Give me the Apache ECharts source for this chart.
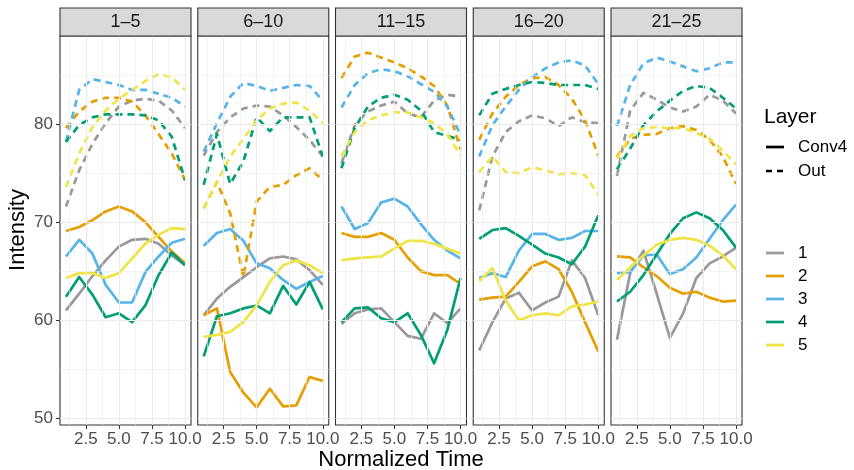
<!DOCTYPE html>
<html>
<head>
<meta charset="utf-8">
<script src="https://cdn.jsdelivr.net/npm/echarts@6/dist/echarts.min.js"></script>
<style>
  html, body { margin: 0; padding: 0; background: #fff; }
  #chart { width: 854px; height: 470px; }
</style>
</head>
<body>
<div id="chart"></div>
<script>
// Normalized time steps shared by every panel
const timeSteps = [1, 2, 3, 4, 5, 6, 7, 8, 9, 10];
const facetNames = ['1–5', '6–10', '11–15', '16–20', '21–25'];
const groupNames = ['1', '2', '3', '4', '5'];
const groupColors = ['#999999', '#E69F00', '#56B4E9', '#009E73', '#F0E442'];
const layerNames = ['Conv4', 'Out'];
const xTickValues = [2.5, 5, 7.5, 10];
const xMinorValues = [1.25, 3.75, 6.25, 8.75];
const yTickValues = [50, 60, 70, 80];
const yMinorValues = [55, 65, 75, 85];

// Conv4 layer, one row per group (1..5), per panel
const conv4Panel1 = [
  [61.0, 62.7, 64.5, 66.1, 67.5, 68.2, 68.3, 67.8, 66.6, 65.6],
  [69.1, 69.5, 70.2, 71.1, 71.6, 71.1, 70.0, 68.5, 67.0, 65.8],
  [66.5, 68.2, 66.8, 63.6, 61.8, 61.8, 64.9, 66.5, 67.9, 68.3],
  [62.4, 64.4, 62.6, 60.3, 60.7, 59.8, 61.5, 64.6, 66.9, 65.6],
  [64.3, 64.8, 64.8, 64.3, 64.8, 66.3, 67.8, 68.7, 69.4, 69.3]
];
const conv4Panel2 = [
  [60.5, 62.2, 63.4, 64.4, 65.4, 66.3, 66.5, 66.2, 65.1, 63.6],
  [60.5, 61.2, 54.7, 52.6, 51.1, 53.0, 51.2, 51.3, 54.2, 53.8],
  [67.6, 68.9, 69.3, 68.1, 65.8, 65.3, 64.1, 63.2, 63.9, 64.5],
  [56.3, 60.4, 60.7, 61.2, 61.5, 60.7, 63.5, 61.6, 63.9, 61.1],
  [58.3, 58.5, 58.8, 59.8, 61.5, 63.9, 65.6, 66.1, 65.6, 64.8]
];
const conv4Panel3 = [
  [59.6, 60.7, 61.1, 61.2, 59.8, 58.4, 58.1, 60.7, 59.7, 61.2],
  [68.9, 68.5, 68.5, 68.9, 68.2, 66.4, 65.0, 64.6, 64.6, 63.7],
  [71.6, 69.3, 69.9, 72.0, 72.4, 71.6, 69.8, 68.2, 67.1, 66.3],
  [59.8, 61.2, 61.3, 60.2, 59.8, 60.7, 58.5, 55.6, 59.0, 64.3],
  [66.1, 66.3, 66.4, 66.5, 67.3, 68.1, 68.1, 67.8, 67.3, 66.8]
];
const conv4Panel4 = [
  [56.9, 59.8, 62.2, 62.8, 61.0, 61.8, 62.4, 66.1, 64.3, 60.5],
  [62.1, 62.3, 62.4, 63.9, 65.5, 66.0, 65.2, 62.9, 59.8, 56.8],
  [64.3, 64.8, 64.4, 67.1, 68.8, 68.8, 68.2, 68.4, 69.1, 69.1],
  [68.3, 69.2, 69.4, 68.6, 67.7, 66.8, 66.4, 65.7, 67.5, 70.7],
  [64.0, 65.3, 62.0, 60.0, 60.5, 60.7, 60.5, 61.4, 61.6, 61.9]
];
const conv4Panel5 = [
  [58.0, 64.8, 67.1, 62.7, 58.2, 60.7, 64.3, 65.8, 66.5, 67.4],
  [66.5, 66.4, 65.4, 64.5, 63.3, 62.7, 62.9, 62.3, 61.9, 62.0],
  [64.8, 64.9, 66.6, 66.7, 64.7, 65.2, 66.4, 68.3, 70.2, 71.8],
  [61.9, 62.9, 64.6, 66.7, 68.8, 70.4, 71.0, 70.4, 69.2, 67.4],
  [64.1, 65.4, 66.6, 67.7, 68.2, 68.4, 68.2, 67.6, 66.6, 65.2]
];

// Out layer, one row per group (1..5), per panel
const outPanel1 = [
  [71.6, 75.3, 78.0, 80.1, 81.8, 82.4, 82.6, 82.4, 81.4, 79.6],
  [79.6, 81.3, 82.3, 82.7, 82.7, 82.3, 80.9, 79.0, 77.0, 74.3],
  [78.2, 83.5, 84.6, 84.3, 84.0, 83.5, 83.5, 83.1, 82.7, 81.8],
  [78.2, 79.9, 80.7, 81.0, 81.0, 81.0, 80.9, 80.4, 78.7, 74.3],
  [73.6, 77.0, 79.7, 81.4, 82.6, 83.5, 84.4, 85.1, 84.8, 83.5]
];
const outPanel2 = [
  [76.8, 79.2, 80.7, 81.6, 81.9, 81.8, 80.9, 79.7, 78.4, 76.7],
  [71.4, 74.1, 70.9, 64.4, 72.1, 73.6, 73.8, 74.8, 75.5, 74.3],
  [77.2, 80.1, 82.8, 84.2, 83.9, 83.4, 83.7, 84.0, 83.9, 82.4],
  [73.8, 79.0, 73.9, 76.2, 80.7, 79.3, 80.7, 80.7, 80.7, 76.7],
  [71.4, 74.1, 76.7, 78.5, 80.4, 81.6, 82.1, 82.2, 81.4, 80.1]
];
const outPanel3 = [
  [76.0, 79.9, 81.3, 81.9, 82.3, 81.1, 80.7, 82.4, 83.0, 82.8],
  [84.7, 86.9, 87.3, 86.8, 86.3, 85.7, 84.9, 83.9, 81.9, 77.4],
  [81.7, 84.0, 85.2, 85.6, 85.4, 84.9, 84.1, 83.3, 81.8, 78.9],
  [75.5, 79.6, 81.8, 82.7, 83.0, 82.5, 81.4, 79.2, 78.8, 78.4],
  [76.7, 79.2, 80.4, 80.9, 81.2, 81.2, 80.7, 80.1, 79.0, 76.8]
];
const outPanel4 = [
  [71.2, 76.7, 79.2, 80.3, 80.9, 80.6, 79.8, 80.7, 80.2, 80.1],
  [78.4, 81.1, 82.8, 84.0, 84.7, 84.8, 84.0, 82.6, 80.4, 76.8],
  [76.7, 79.9, 81.8, 83.5, 84.8, 85.7, 86.3, 86.5, 86.0, 84.1],
  [80.9, 83.1, 83.6, 84.0, 84.3, 84.2, 84.0, 84.0, 84.0, 83.6],
  [75.1, 76.7, 75.1, 75.0, 75.6, 75.3, 74.9, 75.0, 74.8, 72.8]
];
const outPanel5 = [
  [74.7, 81.4, 83.2, 82.5, 81.7, 81.3, 81.8, 83.0, 82.4, 81.1],
  [76.7, 78.5, 78.9, 79.0, 79.6, 79.8, 79.4, 78.4, 76.7, 73.9],
  [79.8, 84.0, 86.2, 86.8, 86.4, 85.9, 85.4, 85.7, 86.3, 86.3],
  [75.4, 77.5, 79.9, 81.3, 82.4, 83.4, 83.9, 83.7, 82.7, 81.6],
  [76.5, 78.8, 79.6, 79.7, 79.6, 79.6, 79.1, 78.5, 77.3, 75.9]
];

const conv4Data = [conv4Panel1, conv4Panel2, conv4Panel3, conv4Panel4, conv4Panel5];
const outData = [outPanel1, outPanel2, outPanel3, outPanel4, outPanel5];

// Panel geometry
const panelLeft = 60, panelStep = 137.75, panelWidth = 131;
const panelTop = 36, panelHeight = 389;
const stripTop = 8, stripHeight = 28;
const xRange = [0.55, 10.45];
const yRange = [49.3, 89.0];
const dashPattern = [7, 5];
const lineW = 2.7;

const grids = [], xAxes = [], yAxes = [], series = [], graphics = [];

facetNames.forEach((name, f) => {
  const left = panelLeft + f * panelStep;
  grids.push({
    left: left, top: panelTop, width: panelWidth, height: panelHeight,
    show: true, borderColor: '#333333', borderWidth: 1.1, backgroundColor: '#ffffff',
    containLabel: false
  });
  xAxes.push({
    type: 'value', gridIndex: f, min: xRange[0], max: xRange[1],
    axisLine: { show: false },
    splitLine: { show: false },
    axisTick: { show: true, length: 4, customValues: xTickValues, lineStyle: { color: '#333333', width: 1.1 } },
    axisLabel: {
      show: true, customValues: xTickValues, margin: 6,
      color: '#4D4D4D', fontSize: 17, fontFamily: 'Liberation Sans, Arial, sans-serif',
      formatter: v => v.toFixed(1)
    }
  });
  yAxes.push({
    type: 'value', gridIndex: f, min: yRange[0], max: yRange[1],
    axisLine: { show: false },
    splitLine: { show: false },
    axisTick: { show: f === 0, length: 4, customValues: yTickValues, lineStyle: { color: '#333333', width: 1.1 } },
    axisLabel: {
      show: f === 0, customValues: yTickValues, margin: 7,
      color: '#4D4D4D', fontSize: 17, fontFamily: 'Liberation Sans, Arial, sans-serif'
    }
  });

  // background grid lines drawn in data coordinates
  const gridLines = [];
  xMinorValues.forEach(v => gridLines.push({ xAxis: v, lineStyle: { width: 0.6 } }));
  yMinorValues.forEach(v => gridLines.push({ yAxis: v, lineStyle: { width: 0.6 } }));
  xTickValues.forEach(v => gridLines.push({ xAxis: v, lineStyle: { width: 1.1 } }));
  yTickValues.forEach(v => gridLines.push({ yAxis: v, lineStyle: { width: 1.1 } }));
  series.push({
    type: 'line', xAxisIndex: f, yAxisIndex: f, data: [], z: 1, silent: true,
    markLine: {
      silent: true, symbol: ['none', 'none'], animation: false,
      label: { show: false },
      lineStyle: { color: '#EBEBEB', type: 'solid' },
      data: gridLines
    }
  });

  // value lines
  [conv4Data[f], outData[f]].forEach((layerRows, l) => {
    layerRows.forEach((vals, g) => {
      series.push({
        name: layerNames[l] + ' ' + groupNames[g],
        type: 'line', xAxisIndex: f, yAxisIndex: f, z: 3,
        data: timeSteps.map((t, i) => [t, vals[i]]),
        symbol: 'none', silent: true, animation: false,
        lineStyle: {
          color: groupColors[g], width: lineW,
          type: l === 0 ? 'solid' : dashPattern, cap: 'butt', join: 'round'
        }
      });
    });
  });

  // strip header
  graphics.push({
    type: 'rect', z: 10,
    shape: { x: left, y: stripTop, width: panelWidth, height: stripHeight },
    style: { fill: '#D9D9D9', stroke: '#333333', lineWidth: 1.1 }
  });
  graphics.push({
    type: 'text', z: 11,
    x: left + panelWidth / 2, y: stripTop + stripHeight / 2 + 0.5,
    style: {
      text: name, fill: '#1A1A1A', fontSize: 18,
      fontFamily: 'Liberation Sans, Arial, sans-serif',
      textAlign: 'center', textVerticalAlign: 'middle'
    }
  });
});

// axis titles
graphics.push({
  type: 'text', x: 401, y: 460,
  style: {
    text: 'Normalized Time', fill: '#000000', fontSize: 22,
    fontFamily: 'Liberation Sans, Arial, sans-serif',
    textAlign: 'center', textVerticalAlign: 'middle'
  }
});
graphics.push({
  type: 'text', x: 18, y: 230, rotation: Math.PI / 2,
  style: {
    text: 'Intensity', fill: '#000000', fontSize: 22,
    fontFamily: 'Liberation Sans, Arial, sans-serif',
    textAlign: 'center', textVerticalAlign: 'middle'
  }
});

// legends: layer line types and group colours
const legendFont = 'Liberation Sans, Arial, sans-serif';
graphics.push({
  type: 'text', x: 764, y: 117,
  style: { text: 'Layer', fill: '#000000', fontSize: 21, fontFamily: legendFont, textVerticalAlign: 'middle' }
});
const layerKeyY = [147, 171];
layerNames.forEach((ln, i) => {
  graphics.push({
    type: 'line',
    shape: { x1: 766, y1: layerKeyY[i], x2: 784, y2: layerKeyY[i] },
    style: { stroke: '#000000', lineWidth: lineW, lineDash: i === 0 ? null : [6, 5], lineCap: 'butt' }
  });
  graphics.push({
    type: 'text', x: 798, y: layerKeyY[i],
    style: { text: ln, fill: '#000000', fontSize: 17, fontFamily: legendFont, textVerticalAlign: 'middle' }
  });
});
const groupKeyY = [253, 276, 299, 322, 345];
groupNames.forEach((gn, i) => {
  graphics.push({
    type: 'line',
    shape: { x1: 766, y1: groupKeyY[i], x2: 784, y2: groupKeyY[i] },
    style: { stroke: groupColors[i], lineWidth: lineW, lineCap: 'butt' }
  });
  graphics.push({
    type: 'text', x: 798, y: groupKeyY[i],
    style: { text: gn, fill: '#000000', fontSize: 17, fontFamily: legendFont, textVerticalAlign: 'middle' }
  });
});

const chart = echarts.init(document.getElementById('chart'), null, { renderer: 'canvas' });
chart.setOption({
  animation: false,
  backgroundColor: '#ffffff',
  grid: grids,
  xAxis: xAxes,
  yAxis: yAxes,
  series: series,
  graphic: graphics
});
</script>
</body>
</html>
